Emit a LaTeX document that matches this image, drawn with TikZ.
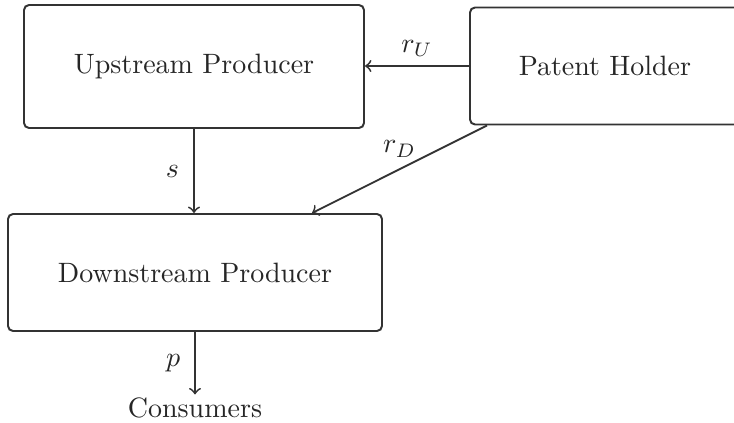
\documentclass[tikz,border=0pt]{standalone}
\usetikzlibrary{calc}
\begin{document}
\begin{tikzpicture}[
  x=0.35714pt, y=-0.35714pt,
  every node/.style={text=black!85},
  agent/.style={draw=black!80, line width=0.7pt, rounded corners=1.8pt,
                inner sep=0pt, align=center},
  flow/.style={draw=black!80, line width=0.65pt, ->, >=to},
  lbl/.style={inner sep=1pt}
]
  % canvas
  \useasboundingbox (0,0) rectangle (734,423);
  \clip (0,0) rectangle (734,423);

  % agents
  \node[agent, minimum width={340*0.35714pt}, minimum height={123*0.35714pt}]
    (up) at (194,66.5) {Upstream Producer};
  \node[agent, minimum width={270*0.35714pt}, minimum height={117*0.35714pt}]
    (ph) at (605,66) {Patent Holder};
  \node[agent, minimum width={374*0.35714pt}, minimum height={117*0.35714pt}]
    (down) at (195,272.5) {Downstream Producer};
  \node[inner sep=1pt] (cons) at (195,408) {Consumers};

  % flows
  \draw[flow] (ph.west) -- (ph.west -| up.east)
    node[lbl, midway, above=2pt] {$r_U$};
  \draw[flow] (up.south) -- (up.south |- down.north)
    node[lbl, midway, left=4pt] {$s$};
  \coordinate (phout) at ($(ph.south west)+(18,0)$);
  \coordinate (dnin) at ($(down.north west)+(305,0)$);
  \draw[flow] (phout) -- (dnin)
    node[lbl, pos=0.5, above=3pt] {$r_D$};
  \draw[flow] (down.south) -- (down.south |- cons.north)
    node[lbl, midway, left=4pt] {$p$};
\end{tikzpicture}
\end{document}
